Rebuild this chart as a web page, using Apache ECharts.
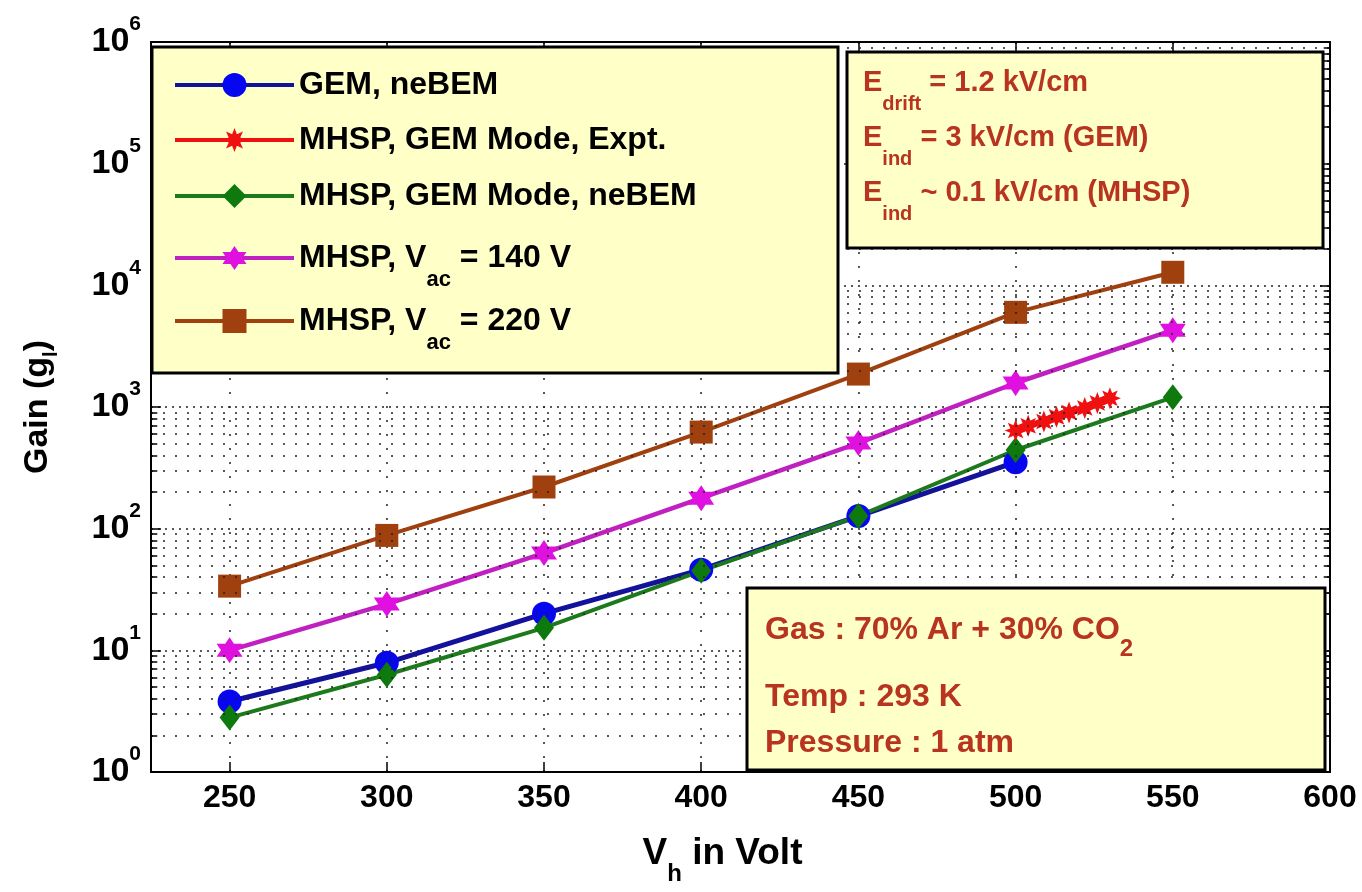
<!DOCTYPE html>
<html>
<head>
<meta charset="utf-8">
<script src="https://cdn.jsdelivr.net/npm/echarts@6/dist/echarts.min.js"></script>
<style>
  html, body { margin: 0; padding: 0; background: #ffffff; }
  #chart { width: 1362px; height: 892px; }
</style>
</head>
<body>
<div id="chart"></div>
<script>
// ---- data: gain vs. hole voltage V_h ----
const voltages = [250, 300, 350, 400, 450, 500, 550];
const gemNebem = [3.8, 7.9, 20, 46, 127, 352];            // 250 .. 500 V
const mhspExptVoltages = [500, 504, 509, 513, 517, 522, 526, 530];
const mhspExpt = [640, 700, 760, 830, 900, 980, 1080, 1180];
const mhspGemNebem = [2.8, 6.3, 15.3, 45, 127, 443, 1200];
const mhspVac140 = [10, 24, 63, 178, 505, 1575, 4280];
const mhspVac220 = [33.7, 88, 220, 622, 1865, 6000, 12800];

const xTickValues = [250, 300, 350, 400, 450, 500, 550, 600];
const yDecades = [1, 10, 100, 1000, 10000, 100000, 1000000];
const minorMultipliers = [2, 3, 4, 5, 6, 7, 8, 9];

const seriesNames = [
  'GEM, neBEM',
  'MHSP, GEM Mode, Expt.',
  'MHSP, GEM Mode, neBEM',
  'MHSP, Vac = 140 V',
  'MHSP, Vac = 220 V'
];

// ---- styling ----
const FONT = '"Liberation Sans", Arial, sans-serif';
const BOX_FILL = '#FFFFC8';
const NOTE_COLOR = '#B83420';
const colors = {
  blueLine: '#12129C', blueMark: '#0606F0',
  red: '#F01010',
  greenLine: '#1C7A1C', greenMark: '#0E7A0E',
  magLine: '#C020C0', magMark: '#E010E0',
  brown: '#A0400F'
};
const hexagram = 'path://M0,-10L2.9,-5L8.66,-5L5.77,0L8.66,5L2.9,5L0,10L-2.9,5L-8.66,5L-5.77,0L-8.66,-5L-2.9,-5Z';
const asterisk = 'path://M0,-10L2,-4.8L7.07,-7.07L4.8,-2L10,0L4.8,2L7.07,7.07L2,4.8L0,10L-2,4.8L-7.07,7.07L-4.8,2L-10,0L-4.8,-2L-7.07,-7.07L-2,-4.8Z';

const pairs = (xs, ys) => ys.map((y, i) => [xs[i], y]);

const minorValues = [];
yDecades.slice(0, -1).forEach(d => minorMultipliers.forEach(m => minorValues.push(d * m)));

// legend layout (row centres in px)
const legendRowCenters = [82, 137, 193, 255, 318];

function legendText(name) {
  const m = name.match(/^(MHSP, V)ac( = .*)$/);
  if (m) return '{m|' + m[1] + '}{s|ac}{m|' + m[2] + '}';
  return '{m|' + name + '}';
}

const legendRich = {
  m: { fontFamily: FONT, fontWeight: 'bold', fontSize: 32, lineHeight: 66, color: '#000' },
  s: { fontFamily: FONT, fontWeight: 'bold', fontSize: 22, lineHeight: 22, verticalAlign: 'bottom', color: '#000' }
};

const subRich = (size, subSize, lh, pad) => ({
  a: { fontFamily: FONT, fontWeight: 'bold', fontSize: size, lineHeight: lh, fill: NOTE_COLOR },
  s: { fontFamily: FONT, fontWeight: 'bold', fontSize: subSize, lineHeight: subSize, verticalAlign: 'bottom', padding: [0, 0, pad, 0], fill: NOTE_COLOR }
});

const chart = echarts.init(document.getElementById('chart'), null, { renderer: 'canvas' });

const option = {
  animation: false,
  backgroundColor: '#ffffff',
  grid: { left: 151, right: 32, top: 42, bottom: 120, containLabel: false },
  xAxis: [
    {
      type: 'value', min: 225, max: 600, position: 'bottom',
      name: '{v|V}{h|h}{t| in Volt}', nameLocation: 'middle', nameGap: 50,
      nameTextStyle: {
        rich: {
          v: { fontFamily: FONT, fontWeight: 'bold', fontSize: 37, lineHeight: 64, color: '#000' },
          h: { fontFamily: FONT, fontWeight: 'bold', fontSize: 24, lineHeight: 24, verticalAlign: 'bottom', color: '#000' },
          t: { fontFamily: FONT, fontWeight: 'bold', fontSize: 37, lineHeight: 64, padding: [0, 36, 0, 0], color: '#000' }
        }
      },
      axisLine: { show: true, lineStyle: { color: '#000', width: 2 } },
      axisTick: { show: true, inside: true, length: 10, customValues: xTickValues, lineStyle: { color: '#000', width: 1.5 } },
      axisLabel: { show: true, customValues: xTickValues, margin: 10, fontFamily: FONT, fontWeight: 'bold', fontSize: 32, color: '#000' },
      splitLine: { show: true, lineStyle: { color: '#222', width: 1.5, type: [2, 12] } }
    },
    {
      type: 'value', min: 225, max: 600, position: 'top',
      axisLine: { show: true, lineStyle: { color: '#000', width: 2 } },
      axisTick: { show: true, inside: true, length: 10, customValues: xTickValues, lineStyle: { color: '#000', width: 1.5 } },
      axisLabel: { show: false },
      splitLine: { show: false }
    }
  ],
  yAxis: [
    {
      type: 'log', logBase: 10, min: 1, max: 1000000, interval: 1, position: 'left',
      name: '{g|Gain (g}{l|l}{g|)}', nameLocation: 'middle', nameGap: 86, nameRotate: 90,
      nameTextStyle: {
        rich: {
          g: { fontFamily: FONT, fontWeight: 'bold', fontSize: 34, lineHeight: 54, color: '#000' },
          l: { fontFamily: FONT, fontWeight: 'bold', fontSize: 20, lineHeight: 20, verticalAlign: 'bottom', padding: [0, 0, 4, 0], color: '#000' }
        }
      },
      axisLine: { show: true, lineStyle: { color: '#000', width: 2 } },
      axisTick: { show: true, inside: true, length: 10, lineStyle: { color: '#000', width: 1.5 } },
      minorTick: { show: false },
      axisLabel: {
        show: true, margin: 10,
        formatter: v => '{b|10}{e|' + Math.round(Math.log10(v)) + '}',
        rich: {
          b: { fontFamily: FONT, fontWeight: 'bold', fontSize: 34, lineHeight: 60, color: '#000' },
          e: { fontFamily: FONT, fontWeight: 'bold', fontSize: 21, lineHeight: 21, verticalAlign: 'top', padding: [2, 0, 0, 0], color: '#000' }
        }
      },
      splitLine: { show: true, lineStyle: { color: '#222', width: 1.5, type: [2, 5] } }
    },
    {
      type: 'log', logBase: 10, min: 1, max: 1000000, interval: 1, position: 'right',
      axisLine: { show: true, lineStyle: { color: '#000', width: 2 } },
      axisTick: { show: true, inside: true, length: 10, lineStyle: { color: '#000', width: 1.5 } },
      axisLabel: { show: false },
      splitLine: { show: false }
    }
  ],
  legend: seriesNames.map((name, i) => ({
    data: [name],
    left: 173,
    top: legendRowCenters[i] - 13,
    padding: 0,
    itemWidth: 119,
    itemHeight: 30,
    selectedMode: false,
    z: 20,
    formatter: legendText,
    lineStyle: { width: 4 },
    textStyle: { rich: legendRich }
  })),
  series: [
    {
      // minor grid lines and minor ticks of the log axis
      type: 'line', data: [], silent: true, z: 1,
      markLine: {
        silent: true, symbol: 'none', animation: false, label: { show: false },
        lineStyle: { color: '#222', width: 1.5, type: [2, 10] },
        emphasis: { disabled: true },
        data: minorValues.map(v => ({ yAxis: v })).concat(
          minorValues.map(v => [
            { coord: [225, v], lineStyle: { type: 'solid', width: 1.5, color: '#000' } },
            { coord: [227, v] }
          ]),
          minorValues.map(v => [
            { coord: [598, v], lineStyle: { type: 'solid', width: 1.5, color: '#000' } },
            { coord: [600, v] }
          ])
        )
      }
    },
    {
      name: seriesNames[0], type: 'line', data: pairs(voltages, gemNebem),
      symbol: 'circle', symbolSize: 24, z: 3,
      lineStyle: { color: colors.blueLine, width: 5 },
      itemStyle: { color: colors.blueMark }
    },
    {
      name: seriesNames[1], type: 'line', data: pairs(mhspExptVoltages, mhspExpt),
      symbol: asterisk, symbolSize: 22, z: 4,
      lineStyle: { color: colors.red, width: 4 },
      itemStyle: { color: colors.red }
    },
    {
      name: seriesNames[2], type: 'line', data: pairs(voltages, mhspGemNebem),
      symbol: 'diamond', symbolSize: [20, 26], z: 3,
      lineStyle: { color: colors.greenLine, width: 4 },
      itemStyle: { color: colors.greenMark }
    },
    {
      name: seriesNames[3], type: 'line', data: pairs(voltages, mhspVac140),
      symbol: hexagram, symbolSize: 26, z: 3,
      lineStyle: { color: colors.magLine, width: 4.5 },
      itemStyle: { color: colors.magMark }
    },
    {
      name: seriesNames[4], type: 'line', data: pairs(voltages, mhspVac220),
      symbol: 'rect', symbolSize: 23, z: 3,
      lineStyle: { color: colors.brown, width: 4 },
      itemStyle: { color: colors.brown }
    }
  ],
  graphic: [
    // legend frame
    { type: 'rect', z: 10, shape: { x: 152, y: 47, width: 686, height: 326 },
      style: { fill: BOX_FILL, stroke: '#000', lineWidth: 3 } },
    // field settings
    { type: 'rect', z: 10, shape: { x: 847, y: 52, width: 476, height: 196 },
      style: { fill: BOX_FILL, stroke: '#000', lineWidth: 3 } },
    { type: 'text', z: 11, x: 863, y: 83,
      style: { text: '{a|E}{s|drift}{a| = 1.2 kV/cm}', verticalAlign: 'middle', rich: subRich(29, 20, 66, 2) } },
    { type: 'text', z: 11, x: 863, y: 138,
      style: { text: '{a|E}{s|ind}{a| = 3 kV/cm (GEM)}', verticalAlign: 'middle', rich: subRich(29, 20, 66, 2) } },
    { type: 'text', z: 11, x: 863, y: 193,
      style: { text: '{a|E}{s|ind}{a| ~ 0.1 kV/cm (MHSP)}', verticalAlign: 'middle', rich: subRich(29, 20, 66, 2) } },
    // gas conditions
    { type: 'rect', z: 10, shape: { x: 747, y: 588, width: 578, height: 182 },
      style: { fill: BOX_FILL, stroke: '#000', lineWidth: 3 } },
    { type: 'text', z: 11, x: 765, y: 630,
      style: { text: '{a|Gas : 70% Ar + 30% CO}{s|2}', verticalAlign: 'middle', rich: subRich(32, 24, 64, 1) } },
    { type: 'text', z: 11, x: 765, y: 697,
      style: { text: 'Temp : 293 K', verticalAlign: 'middle', fontFamily: FONT, fontWeight: 'bold', fontSize: 32, fill: NOTE_COLOR } },
    { type: 'text', z: 11, x: 765, y: 743,
      style: { text: 'Pressure : 1 atm', verticalAlign: 'middle', fontFamily: FONT, fontWeight: 'bold', fontSize: 32, fill: NOTE_COLOR } }
  ]
};

chart.setOption(option);
</script>
</body>
</html>
